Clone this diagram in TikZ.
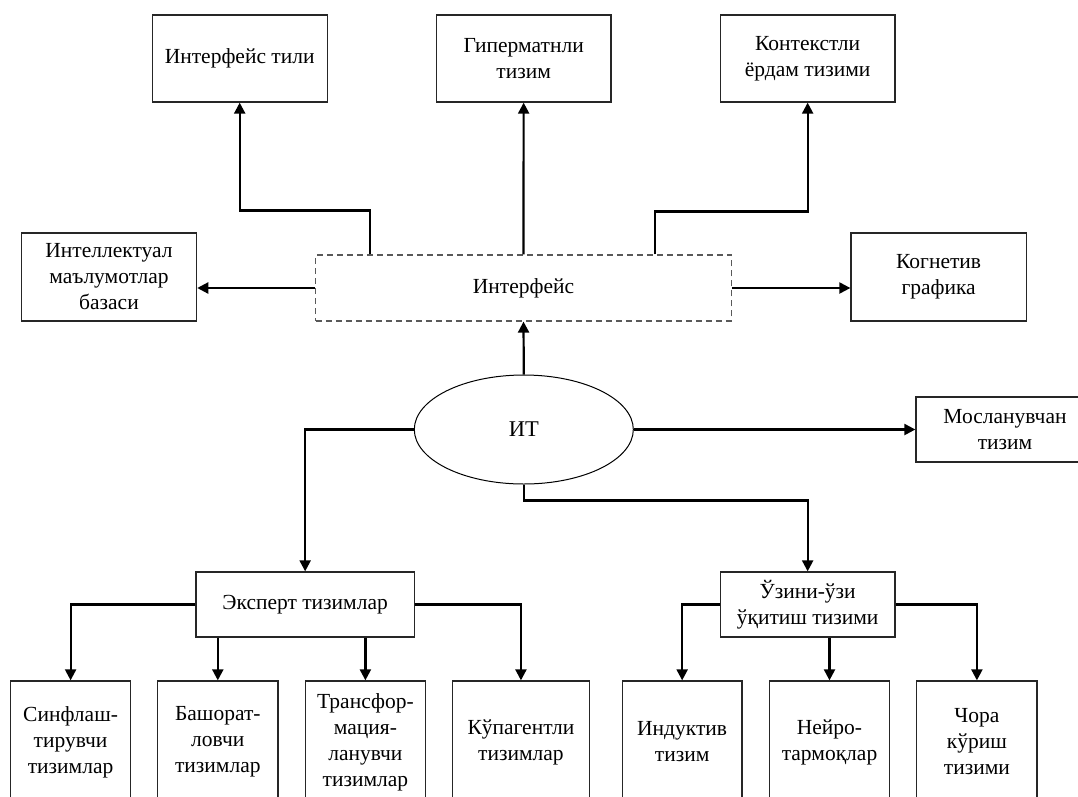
\documentclass[tikz,border=0pt]{standalone}
\usepackage{fontspec}
\setmainfont{Liberation Serif}
\usetikzlibrary{shapes.geometric,arrows.meta}
\begin{document}
\begin{tikzpicture}[x=1pt,y=-1pt,
  font=\fontsize{21.5}{26}\selectfont,
  box/.style={draw=black!85,line width=1.3pt,align=center,inner sep=0pt},
  dbox/.style={draw=black!65,line width=1.2pt,dash pattern=on 6pt off 4pt,align=center,inner sep=0pt},
  oval/.style={draw,ellipse,line width=1pt,inner sep=0pt,minimum width=219pt,minimum height=109pt,font=\fontsize{22.5}{26}\selectfont},
  arr/.style={line width=2.2pt,-{Triangle[length=11pt,width=11pt]}},
  bbox/.style={box,minimum height=122pt}]
\useasboundingbox (0,0) rectangle (1078,796);
% top row
\node[box,minimum width=175pt,minimum height=87pt] (til) at (239.7,58.5) {Интерфейс тили};
\node[box,minimum width=174.7pt,minimum height=87pt] (gip) at (523.65,58.5) {Гиперматнли\\тизим};
\node[box,minimum width=174.9pt,minimum height=87pt] (kon) at (807.65,58.5) {Контекстли\\ёрдам тизими};
% middle row
\node[box,minimum width=175.2pt,minimum height=88pt] (int) at (109,277) {Интеллектуал\\маълумотлар\\базаси};
\node[dbox,minimum width=415.4pt,minimum height=66pt] (intf) at (523.5,288) {Интерфейс};
\node[box,minimum width=175.3pt,minimum height=88pt] (kog) at (938.65,277) {Когнетив\\графика};
% centre
\node[oval] (it) at (523.8,429.5) {ИТ};
\node[box,minimum width=178pt,minimum height=65pt] (mos) at (1005,429.5) {Мосланувчан\\тизим};
% second level
\node[box,minimum width=218.3pt,minimum height=65pt] (eks) at (305.15,604.5) {Эксперт тизимлар};
\node[box,minimum width=174.9pt,minimum height=65pt] (uz) at (807.65,604.5) {Ўзини-ўзи\\ўқитиш тизими};
% bottom row
\node[bbox,minimum width=119.8pt] (s1) at (70.6,742) {Синфлаш-\\тирувчи\\тизимлар};
\node[bbox,minimum width=120.2pt] (s2) at (217.8,742) {Башорат-\\ловчи\\тизимлар};
\node[bbox,minimum width=119.8pt] (s3) at (365.4,742) {Трансфор-\\мация-\\ланувчи\\тизимлар};
\node[bbox,minimum width=137.5pt] (s4) at (520.95,742) {Кўпагентли\\тизимлар};
\node[bbox,minimum width=119.5pt] (s5) at (682.15,742) {Индуктив\\тизим};
\node[bbox,minimum width=120.2pt] (s6) at (829.5,742) {Нейро-\\тармоқлар};
\node[bbox,minimum width=120.2pt] (s7) at (976.9,742) {Чора\\кўриш\\тизими};
% connectors from interface
\draw[arr] ([xshift=55.1pt]intf.north west) -- ++(0,-44) -| (til.south);
\draw[arr] (intf.north) -- (gip.south);
\draw[arr] ([xshift=-76.5pt]intf.north east) -- ++(0,-43) -| (kon.south);
\draw[arr] (intf.west) -- (int.east |- intf.west);
\draw[arr] (intf.east) -- (kog.west |- intf.east);
% connectors from IT
\draw[arr] (it.north) -- (intf.south);
\draw[arr] (it.east) -- (mos.west);
\draw[arr] (it.west) -| (eks.north);
\draw[arr] (it.south) -- ++(0,16) -| (uz.north);
% expert systems
\draw[arr] (eks.west) -| (s1.north);
\draw[arr] (eks.south -| s2.north) -- (s2.north);
\draw[arr] (eks.south -| s3.north) -- (s3.north);
\draw[arr] (eks.east) -| (s4.north);
% self-learning
\draw[arr] (uz.west) -| (s5.north);
\draw[arr] (uz.south -| s6.north) -- (s6.north);
\draw[arr] (uz.east) -| (s7.north);
\end{tikzpicture}
\end{document}
